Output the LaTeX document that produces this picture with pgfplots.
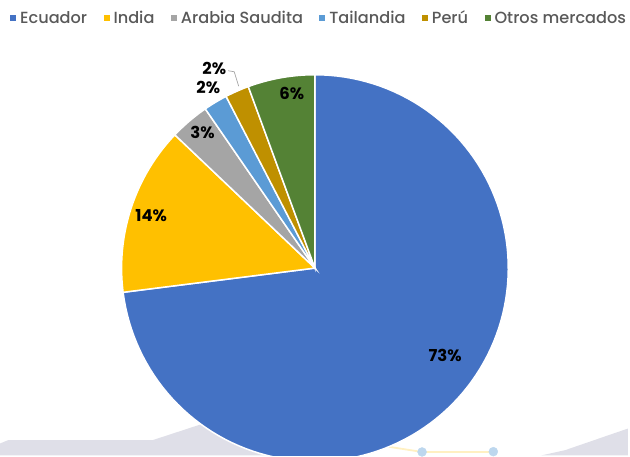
\documentclass[border=0pt]{standalone}
\usepackage{pgfplots}
\pgfplotsset{compat=1.18}
\usepackage{pgfplotstable}
\usepackage{fontspec}
\setmainfont{Poppins}
\newfontfamily\legfont{Poppins Medium}
\definecolor{cEcu}{HTML}{4472C4}
\definecolor{cInd}{HTML}{FFC000}
\definecolor{cAra}{HTML}{A5A5A5}
\definecolor{cTai}{HTML}{5B9BD5}
\definecolor{cPer}{HTML}{BF9000}
\definecolor{cOtr}{HTML}{548235}
\definecolor{bgGrey}{HTML}{DFDFE8}
\definecolor{lineYel}{HTML}{FFF0C2}
\definecolor{dotBlue}{HTML}{BDD7EE}
\definecolor{legText}{HTML}{595959}

% share of each market (percent)
\pgfplotstableread{
country value
Ecuador 73.0
India 14.1
Arabia 3.3
Tailandia 2.0
Peru 2.0
Otros 5.6
}\piedata

\begin{document}
\begin{tikzpicture}
\pgfplotstablegetelem{0}{value}\of\piedata\pgfmathsetmacro\vA{\pgfplotsretval}
\pgfplotstablegetelem{1}{value}\of\piedata\pgfmathsetmacro\vB{\pgfplotsretval}
\pgfplotstablegetelem{2}{value}\of\piedata\pgfmathsetmacro\vC{\pgfplotsretval}
\pgfplotstablegetelem{3}{value}\of\piedata\pgfmathsetmacro\vD{\pgfplotsretval}
\pgfplotstablegetelem{4}{value}\of\piedata\pgfmathsetmacro\vE{\pgfplotsretval}
\pgfplotstablegetelem{5}{value}\of\piedata\pgfmathsetmacro\vF{\pgfplotsretval}
\pgfmathsetmacro\aA{90}
\pgfmathsetmacro\aB{\aA-3.6*\vA}
\pgfmathsetmacro\aC{\aB-3.6*\vB}
\pgfmathsetmacro\aD{\aC-3.6*\vC}
\pgfmathsetmacro\aE{\aD-3.6*\vD}
\pgfmathsetmacro\aF{\aE-3.6*\vE}
\pgfmathsetmacro\aG{\aF-3.6*\vF}
\begin{axis}[
  scale only axis, width=630pt, height=457pt,
  xmin=-316, xmax=314, ymin=-188, ymax=269,
  hide axis, clip=true,
  legend columns=-1,
  legend image code/.code={\fill[#1,draw=none] (0pt,-3pt) rectangle (6pt,3pt);},
  legend style={draw=none, fill=none, at={(axis cs:-306,251)}, anchor=west,
    inner sep=0pt, font=\legfont\fontsize{16.2}{16.2}\selectfont, text=legText,
    nodes={inner xsep=4pt, inner ysep=0pt},
    /tikz/every even column/.append style={column sep=12.5pt}},
  slice/.style={draw=white, line width=1.5pt, samples=120, data cs=polar},
]
% background decoration
\addplot[forget plot, fill=bgGrey, draw=none] coordinates {(-316,-176) (-308,-172.7) (-163,-172.7) (-106,-154) (0,-154) (0,-188) (-316,-188)} -- cycle;
\addplot[forget plot, fill=bgGrey, draw=none] coordinates {(227,-188) (251,-182.7) (314,-161) (314,-188)} -- cycle;
\addplot[forget plot, draw=lineYel, line width=1.8pt] coordinates {(40,-174) (107.5,-184.5) (179,-184.5)};
\addplot[forget plot, only marks, color=dotBlue, mark=*, mark size=4.5pt, mark options={fill=dotBlue, draw=dotBlue}] coordinates {(107.5,-184.5) (179,-184.2)};
% pie slices
\addplot[slice, fill=cEcu, domain=\aB:\aA] ({x},{194}) -- (axis cs:0,0) -- cycle;
\addlegendentry{Ecuador}
\addplot[slice, fill=cInd, domain=\aC:\aB] ({x},{194}) -- (axis cs:0,0) -- cycle;
\addlegendentry{India}
\addplot[slice, fill=cAra, domain=\aD:\aC] ({x},{194}) -- (axis cs:0,0) -- cycle;
\addlegendentry{Arabia Saudita}
\addplot[slice, fill=cTai, domain=\aE:\aD] ({x},{194}) -- (axis cs:0,0) -- cycle;
\addlegendentry{Tailandia}
\addplot[slice, fill=cPer, domain=\aF:\aE] ({x},{194}) -- (axis cs:0,0) -- cycle;
\addlegendentry{Perú}
\addplot[slice, fill=cOtr, domain=\aG:\aF] ({x},{194}) -- (axis cs:0,0) -- cycle;
\addlegendentry{Otros mercados}
% leader line for Peru label
\addplot[forget plot, draw=cAra, line width=0.7pt] coordinates {(-87,198) (-81,197) (-76.5,182.5)};
% data labels
\begin{scope}[every node/.style={font=\bfseries\fontsize{16.5}{16.5}\selectfont, text=black, inner sep=0pt}]
\node at (axis cs:130.7,-87.7) {73\%};
\node at (axis cs:-164.3,52.3) {14\%};
\node at (axis cs:-112.7,135.7) {3\%};
\node at (axis cs:-107,181.7) {2\%};
\node at (axis cs:-101,200.7) {2\%};
\node at (axis cs:-23.3,175.7) {6\%};
\end{scope}
\end{axis}
\path (current axis.south west) rectangle (current axis.north east);
\end{tikzpicture}
\end{document}
